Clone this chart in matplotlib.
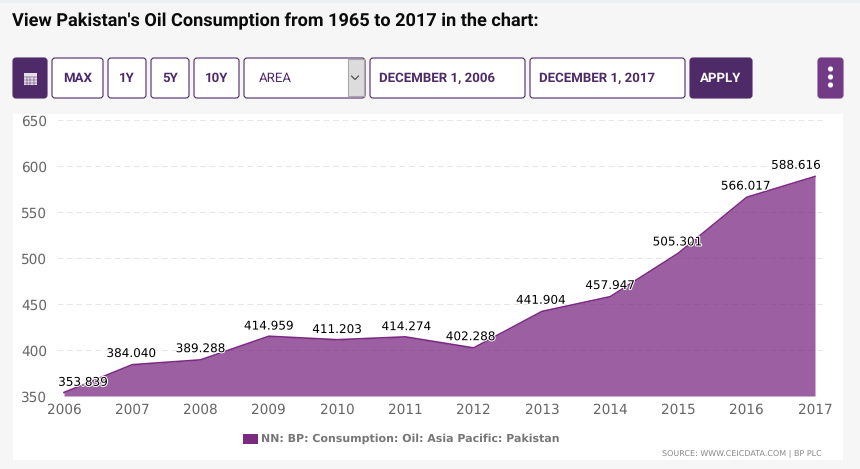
#!/usr/bin/env python3
import matplotlib
matplotlib.use("Agg")
import matplotlib.pyplot as plt
import matplotlib.patheffects as pe
from matplotlib.patches import FancyBboxPatch, Rectangle, Circle

plt.rcParams["text.hinting"] = "none"

years = [2006, 2007, 2008, 2009, 2010, 2011, 2012, 2013, 2014, 2015, 2016, 2017]
oil_consumption = [353.839, 384.040, 389.288, 414.959, 411.203, 414.274,
                   402.288, 441.904, 457.947, 505.301, 566.017, 588.616]
y_ticks = [350, 400, 450, 500, 550, 600, 650]
legend_label = "NN: BP: Consumption: Oil: Asia Pacific: Pakistan"
source_label = "SOURCE: WWW.CEICDATA.COM | BP PLC"
title_label = "View Pakistan's Oil Consumption from 1965 to 2017 in the chart:"
# label nudges in px, the original chart moves them to avoid overlaps
label_dx = [19, -1, 0, 0, 0, 1, -3, -1, 0, -1, -1, -19]
label_dy = [-1, 0, 0, -1, -1, -1, 0, 0, 0, 0, 0, 0]

W, H = 860, 469
PURPLE = "#4f2a68"
AREA = "#7b2a82"


def px(size):
    return size * 0.72


fig = plt.figure(figsize=(W / 100, H / 100), dpi=100, facecolor="#f6f6f7")

# page furniture, in pixel coordinates
bg = fig.add_axes([0, 0, 1, 1])
bg.set_xlim(0, W)
bg.set_ylim(H, 0)
bg.axis("off")
bg.add_patch(Rectangle((0, 0), W, 3, fc="#eeeff0", ec="none"))
bg.add_patch(Rectangle((13, 114), 830, 346, fc="white", ec="none"))


def button(x0, x1, label=None, fill="white", color=PURPLE, weight="bold", size=13.2, edge=PURPLE, tx=None):
    bg.add_patch(FancyBboxPatch((x0 + 2.5, 60.5), x1 - x0 - 5, 35, boxstyle="round,pad=2.5,rounding_size=3",
                                fc=fill, ec=edge, lw=0.8))
    if label:
        bg.text((x0 + x1) / 2 if tx is None else tx, 78, label, color=color, fontsize=px(size), fontweight=weight,
                family="Roboto", ha="center" if tx is None else "left", va="center")


bg.text(12, 21.5, title_label, fontsize=px(18.1), fontweight="bold", family="Roboto", color="#0b0b0b", va="center")

button(13, 47, fill=PURPLE)
bg.add_patch(Rectangle((23.5, 73), 13, 12, fc="#e6dfea", ec="none"))
for gx in (26.5, 30, 33.5):
    bg.plot([gx, gx], [77, 85], color=PURPLE, lw=0.35)
for gy in (77, 80, 83):
    bg.plot([23.5, 36.5], [gy, gy], color=PURPLE, lw=0.35)
button(52, 103, "MAX")
button(108, 146, "1Y")
button(151, 189, "5Y")
button(194, 239, "10Y")
button(244, 365, "AREA", weight="normal", tx=259)
bg.add_patch(Rectangle((347.5, 59.5), 16.5, 37, fc="#dcdcdc", ec="#a8a8a8", lw=0.8))
bg.plot([351.5, 355, 358.5], [76, 79.5, 76], color="#444444", lw=0.8)
button(370, 525, "DECEMBER 1, 2006", tx=379)
button(530, 685, "DECEMBER 1, 2017", tx=539)
button(690, 752, "APPLY", fill=PURPLE, color="white")
button(818, 843, fill="#733a85", edge="#733a85")
for cy in (69, 77, 85):
    bg.add_patch(Circle((830.5, cy), 2.6, fc="white", ec="none"))

# chart axes, left/right run past the data so the grid sticks out like the original
x_left, x_right, y_top, y_bot = 57, 823, 120, 396
year_px = (815 - 64) / 11
ax = fig.add_axes([x_left / W, 1 - y_bot / H, (x_right - x_left) / W, (y_bot - y_top) / H])
ax.patch.set_alpha(0)
ax.set_xlim(2006 - 7 / year_px, 2017 + 8 / year_px)
ax.set_ylim(350, 650)
for s in ax.spines.values():
    s.set_visible(False)

ax.set_yticks(y_ticks)
ax.set_xticks(years)
ax.grid(axis="y", color="#e6e6e6", lw=0.72, ls=(0, (6, 3.5)))
ax.set_axisbelow(True)
ax.tick_params(length=0, colors="#666666", labelsize=px(13.6))
ax.tick_params(axis="x", pad=5)
ax.tick_params(axis="y", pad=7)

ax.fill_between(years, oil_consumption, 350, color=AREA, alpha=0.75, lw=0, clip_on=False, zorder=2)
ax.plot(years, oil_consumption, color=AREA, lw=1.2, clip_on=False, zorder=3)

for yr, val, dx, dy in zip(years, oil_consumption, label_dx, label_dy):
    ax.annotate(f"{val:.3f}", (yr, val), xytext=(px(dx), px(11 + dy)), textcoords="offset points",
                ha="center", va="center", fontsize=px(12), color="black", zorder=5, annotation_clip=False,
                path_effects=[pe.withStroke(linewidth=1.5, foreground="white")])

# legend and source line
bg.add_patch(Rectangle((243, 434), 15, 10, fc="#7b2a82", ec="none"))
bg.text(261, 439, legend_label, fontsize=px(11), fontweight="bold", color="#777777", va="center")
bg.text(822, 453.5, source_label, fontsize=px(8.0), color="#888888", va="center", ha="right")

fig.savefig("out.png", dpi=100, facecolor=fig.get_facecolor())
